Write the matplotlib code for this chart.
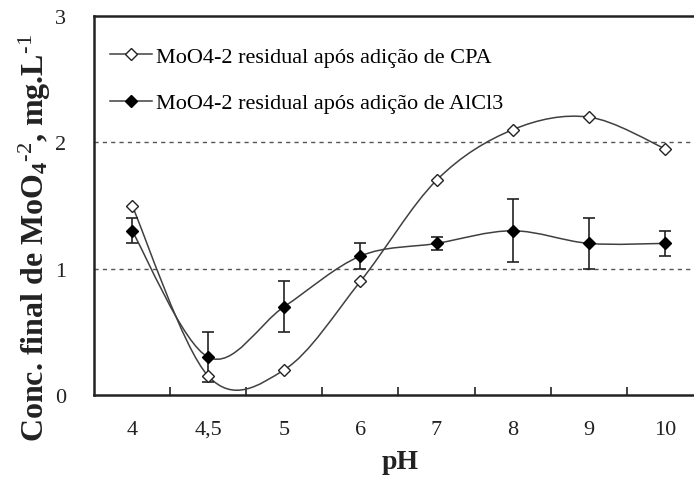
import numpy as np
import matplotlib
matplotlib.use('Agg')
import matplotlib.pyplot as plt
from matplotlib.path import Path
from matplotlib.patches import PathPatch
from matplotlib.lines import Line2D

# data
ph_labels = ['4', '4,5', '5', '6', '7', '8', '9', '10']
cpa = [1.5, 0.15, 0.2, 0.9, 1.7, 2.1, 2.2, 1.95]
alcl3 = [1.3, 0.3, 0.7, 1.1, 1.2, 1.3, 1.2, 1.2]
alcl3_err = [0.1, 0.2, 0.2, 0.1, 0.05, 0.25, 0.2, 0.1]
legend_labels = ['MoO4-2 residual após adição de CPA',
                 'MoO4-2 residual após adição de AlCl3']

plt.rcParams['font.family'] = ['Liberation Serif', 'DejaVu Serif']
plt.rcParams['mathtext.fontset'] = 'custom'
plt.rcParams['mathtext.rm'] = 'Liberation Serif'
plt.rcParams['mathtext.bf'] = 'Liberation Serif:bold'
plt.rcParams['mathtext.default'] = 'bf'

line_col = '#404040'
dark = '#222222'


# smoothed line through the points (catmull-rom as bezier, like a spreadsheet)
def smooth_path(x, y):
    pts = np.column_stack([x, y]).astype(float)
    verts = [pts[0]]
    codes = [Path.MOVETO]
    n = len(pts)
    for i in range(n - 1):
        p0 = pts[i - 1] if i > 0 else pts[i]
        p1 = pts[i]
        p2 = pts[i + 1]
        p3 = pts[i + 2] if i + 2 < n else pts[i + 1]
        c1 = p1 + (p2 - p0) / 6.0
        c2 = p2 - (p3 - p1) / 6.0
        verts += [c1, c2, p2]
        codes += [Path.CURVE4] * 3
    return Path(verts, codes)


fig = plt.figure(figsize=(6.94, 4.81), dpi=100)
ax = fig.add_axes([94 / 694, 85 / 481, 609 / 694, 379 / 481])

x = np.arange(len(ph_labels))
ax.set_xlim(-0.5, len(ph_labels) - 0.5)
ax.set_ylim(0, 3)

for yv in [1, 2]:
    ax.axhline(yv, color='#555555', lw=1, ls=(0, (3, 3)), zorder=1)

ax.add_patch(PathPatch(smooth_path(x, cpa), fill=False, ec=line_col, lw=1.1, zorder=2))
ax.add_patch(PathPatch(smooth_path(x, alcl3), fill=False, ec=line_col, lw=1.1, zorder=2))

ax.errorbar(x, alcl3, yerr=alcl3_err, fmt='none', ecolor=dark, elinewidth=1.2,
            capsize=4, capthick=1.2, zorder=3)
ax.plot(x, cpa, ls='none', marker='D', ms=6.5, mfc='white', mec=dark, mew=1, zorder=4)
ax.plot(x, alcl3, ls='none', marker='D', ms=6, mfc='black', mec='black', mew=1, zorder=4)

# labels at the categories, tick marks between them
ax.set_xticks(x)
ax.set_xticklabels(ph_labels, fontsize=16, color=dark)
ax.set_xticks(np.arange(0.5, len(ph_labels) - 0.5, 1), minor=True)
ax.tick_params(axis='x', which='major', length=0, pad=18)
ax.tick_params(axis='x', which='minor', direction='in', length=6, width=1.2, color=dark)

ax.set_yticks([0, 1, 2, 3])
ax.set_yticklabels(['0', '1', '2', '3'], fontsize=16, color=dark)
ax.tick_params(axis='y', length=0, pad=20)

for s in ['left', 'bottom', 'top']:
    ax.spines[s].set_linewidth(1.8)
    ax.spines[s].set_color(dark)
ax.spines['right'].set_visible(False)

fig.text(400 / 694, 1 - 463 / 481, 'pH', fontsize=20, fontweight='bold', color=dark,
         ha='center', va='center')
fig.text(35 / 694, 1 - 238 / 481,
         r'Conc. final de MoO$_4$$^{\text{-2}}$, mg.L$^{\text{-1}}$',
         fontsize=23, fontweight='bold', color=dark, rotation=90,
         ha='center', va='center')

handles = [
    Line2D([], [], color=line_col, lw=1.1, marker='D', ms=6.5, mfc='white', mec=dark),
    Line2D([], [], color=line_col, lw=1.1, marker='D', ms=6, mfc='black', mec='black'),
]
ax.legend(handles, legend_labels, loc='upper left', bbox_to_anchor=(0.0, 0.962),
          frameon=False, fontsize=16, handlelength=1.9, handletextpad=0.2,
          labelspacing=1.18, borderaxespad=0.3)

fig.savefig('out.png', dpi=100)
